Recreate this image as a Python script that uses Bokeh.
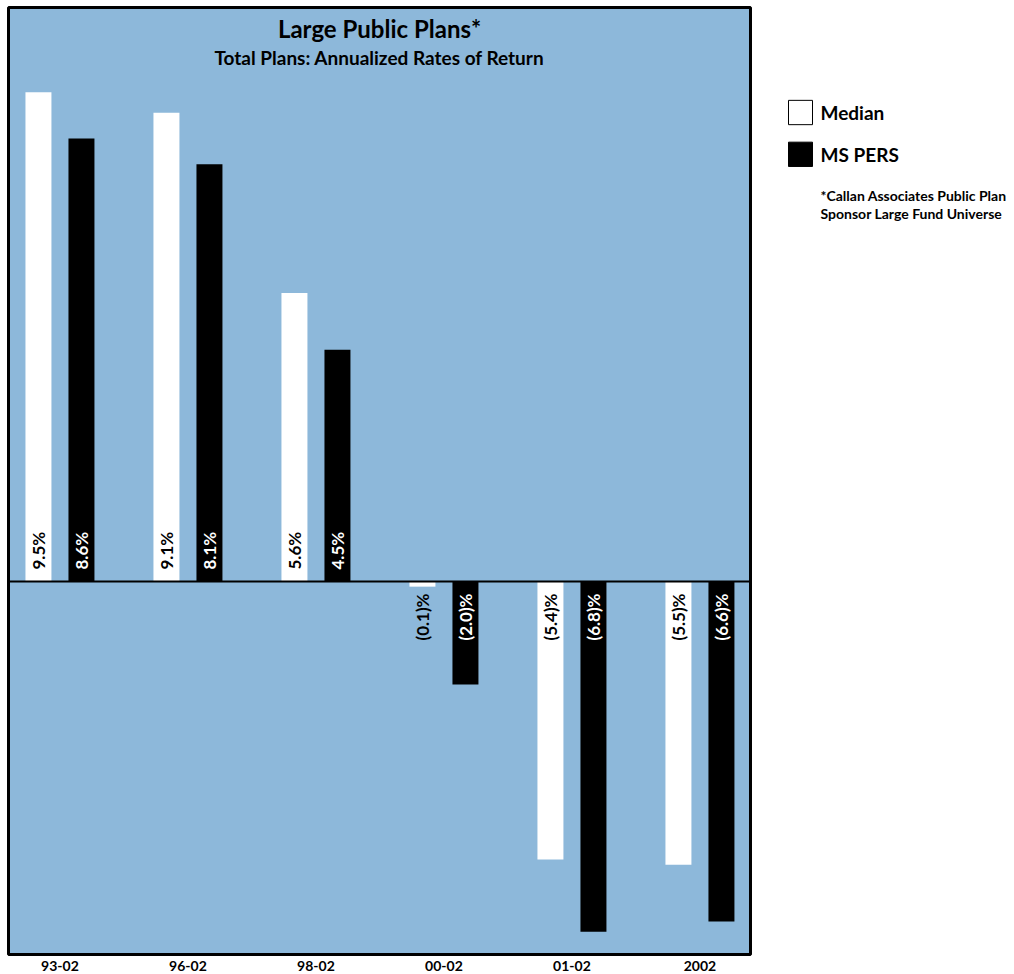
import math
from bokeh.plotting import figure
from bokeh.layouts import row
from bokeh.models import ColumnDataSource, Range1d, FixedTicker, Span
from bokeh.transform import dodge
from bokeh.core.properties import value
from bokeh.embed import file_html
from bokeh.resources import INLINE

# Annualized rates of return, percent
categories = ["93-02", "96-02", "98-02", "00-02", "01-02", "2002"]
median = [9.5, 9.1, 5.6, -0.1, -5.4, -5.5]
ms_pers = [8.6, 8.1, 4.5, -2.0, -6.8, -6.6]
series_names = ["Median", "MS PERS"]

BG = "#8db8da"
FONT = "Lato"


def fmt(v):
    return f"{v:.1f}%" if v >= 0 else f"({abs(v):.1f})%"


idx = list(range(len(categories)))
x_range = Range1d(-0.402, 5.395)
y_range = Range1d(-7.243, 11.146)

p = figure(width=758, height=974, x_range=x_range, y_range=y_range,
           y_axis_type=None, output_backend="svg", toolbar_location=None,
           min_border_left=8, min_border_right=8, min_border_top=7,
           min_border_bottom=20)
p.background_fill_color = BG
p.border_fill_color = "white"
p.outline_line_color = "black"
p.outline_line_width = 3
p.grid.visible = False

ax = p.xaxis[0]
ax.ticker = FixedTicker(ticks=idx)
ax.major_label_overrides = {i: c for i, c in zip(idx, categories)}
ax.axis_line_color = None
ax.major_tick_line_color = None
ax.minor_tick_line_color = None
ax.major_tick_out = 0
ax.major_label_standoff = 6
ax.major_label_text_font = FONT
ax.major_label_text_font_style = "bold"
ax.major_label_text_font_size = "14px"
ax.major_label_text_color = "black"

src = ColumnDataSource(dict(
    x=idx, median=median, ms=ms_pers,
    median_lbl=[fmt(v) for v in median],
    ms_lbl=[fmt(v) for v in ms_pers],
))

OFF = 0.168
W = 0.203
p.vbar(x=dodge("x", -OFF, range=x_range), top="median", bottom=0, width=W,
       source=src, fill_color="white", line_color=None)
p.vbar(x=dodge("x", OFF, range=x_range), top="ms", bottom=0, width=W,
       source=src, fill_color="black", line_color=None)

p.add_layout(Span(location=0, dimension="width", line_color="black",
                  line_width=2))

# value labels, rotated, anchored at the zero line
for vals, lbl_key, off, color in [(median, "median_lbl", -OFF, "black"),
                                  (ms_pers, "ms_lbl", OFF, "white")]:
    for positive in (True, False):
        sel = [i for i, v in enumerate(vals) if (v >= 0) == positive]
        s = ColumnDataSource(dict(
            x=[idx[i] + off for i in sel],
            y=[0] * len(sel),
            t=[src.data[lbl_key][i] for i in sel],
        ))
        p.text(x="x", y="y", text="t", source=s, angle=math.pi / 2,
               text_align="left" if positive else "right",
               text_baseline="middle",
               y_offset=-12 if positive else 12,
               text_color=color, text_font=value(FONT),
               text_font_style="bold", text_font_size="17px")

xc = (x_range.start + x_range.end) / 2
p.text(x=[xc], y=[y_range.end], text=["Large Public Plans*"], y_offset=21,
       text_align="center", text_baseline="middle", text_color="black",
       text_font=value(FONT), text_font_style="bold", text_font_size="24px")
p.text(x=[xc], y=[y_range.end], text=["Total Plans: Annualized Rates of Return"],
       y_offset=50, text_align="center", text_baseline="middle",
       text_color="black", text_font=value(FONT), text_font_style="bold",
       text_font_size="19px")

# side panel with legend and footnote (pixel coordinates, y downward)
side = figure(width=256, height=974, x_range=Range1d(0, 256),
              y_range=Range1d(974, 0), x_axis_type=None, y_axis_type=None,
              output_backend="svg", toolbar_location=None,
              min_border=0, min_border_left=0, min_border_right=0,
              min_border_top=0, min_border_bottom=0)
side.outline_line_color = None
side.grid.visible = False
side.background_fill_color = "white"

side.rect(x=[42, 42], y=[108, 151], width=24, height=25,
          fill_color=["white", "black"], line_color="black", line_width=1)
side.text(x=[62, 62], y=[108, 151], text=series_names,
          text_align="left", text_baseline="middle", text_color="black",
          text_font=value(FONT), text_font_style="bold", text_font_size="19px")
side.text(x=[62, 62], y=[193, 212],
          text=["*Callan Associates Public Plan", "Sponsor Large Fund Universe"],
          text_align="left", text_baseline="middle", text_color="black",
          text_font=value(FONT), text_font_style="bold", text_font_size="14px")

layout = row(p, side)
open("out.html", "w").write(file_html(layout, INLINE))
